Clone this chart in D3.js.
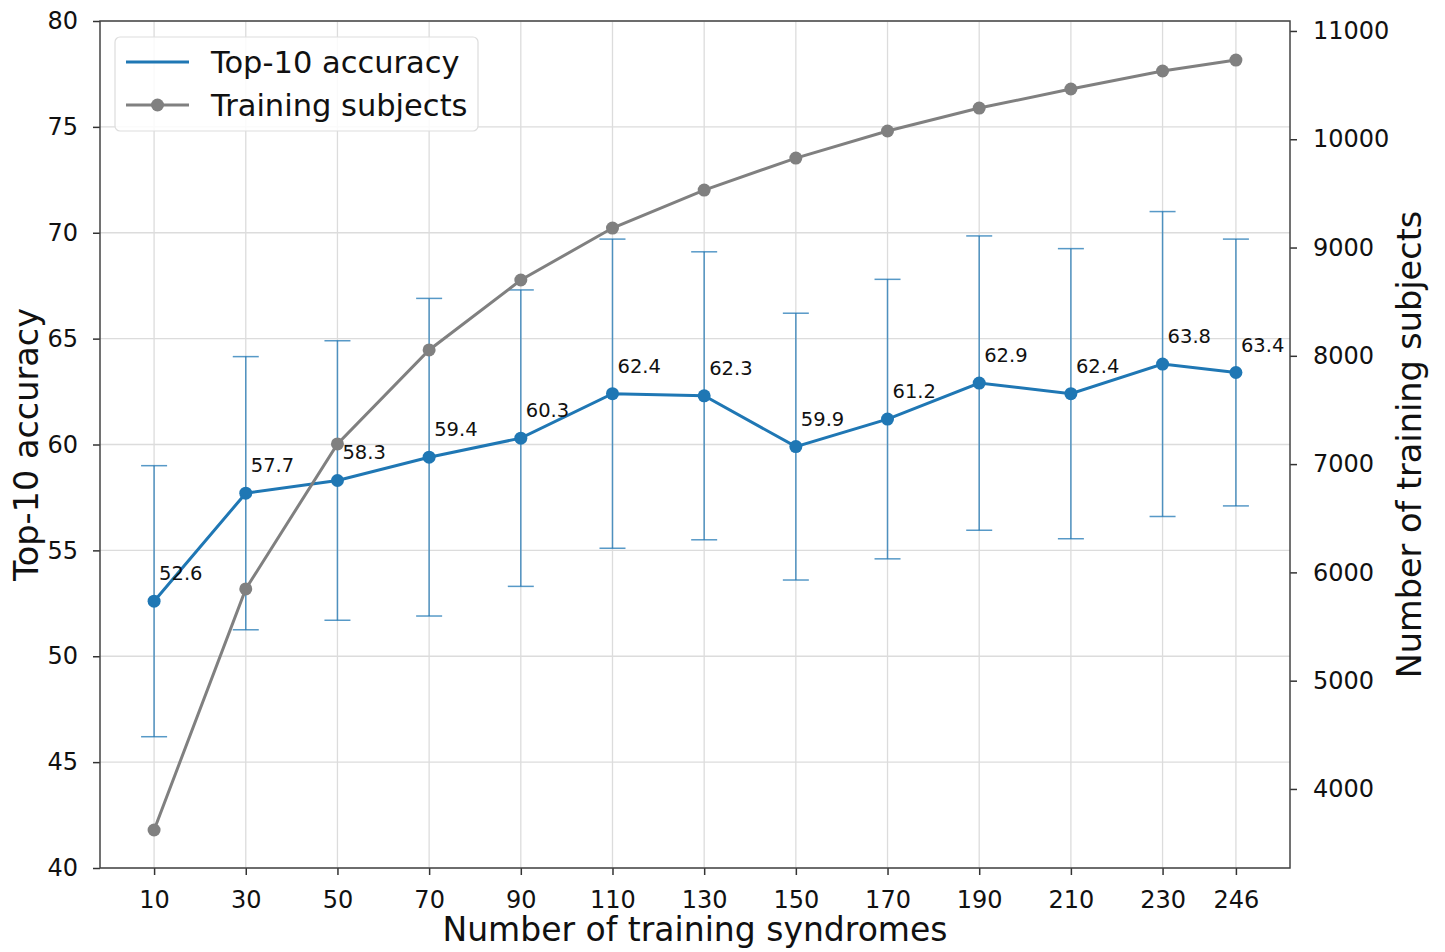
<!DOCTYPE html>
<html>
<head>
<meta charset="utf-8">
<script src="https://cdn.jsdelivr.net/npm/d3@7"></script>
<style>
  body { margin: 0; background: #fff; }
  svg { font-family: "DejaVu Sans", sans-serif; }
</style>
</head>
<body>
<div id="wrap"></div>
<script>
// data
const syndromes = [10, 30, 50, 70, 90, 110, 130, 150, 170, 190, 210, 230, 246];
const accuracy = [52.6, 57.7, 58.3, 59.4, 60.3, 62.4, 62.3, 59.9, 61.2, 62.9, 62.4, 63.8, 63.4];
const accuracyErr = [6.4, 6.45, 6.6, 7.5, 7.0, 7.3, 6.8, 6.3, 6.6, 6.95, 6.85, 7.2, 6.3];
const subjects = [3621, 5847, 7186, 8054, 8700, 9180, 9531, 9826, 10076, 10288, 10464, 10630, 10731];
const leftTicks = [40, 45, 50, 55, 60, 65, 70, 75, 80];
const rightTicks = [4000, 5000, 6000, 7000, 8000, 9000, 10000, 11000];

const width = 1445;
const height = 952;
const margin = { left: 100, right: 155, top: 21, bottom: 84 };
const innerW = width - margin.left - margin.right;
const innerH = height - margin.top - margin.bottom;

const blue = "#1f77b4";
const gray = "#808080";

const x = d3.scaleLinear().domain([-1.8, 257.8]).range([0, innerW]);
const y = d3.scaleLinear().domain([40, 80]).range([innerH, 0]);
const y2 = d3.scaleLinear().domain([3270, 11092]).range([innerH, 0]);

const svg = d3.select("#wrap").append("svg")
    .attr("width", width)
    .attr("height", height);

const g = svg.append("g")
    .attr("transform", `translate(${margin.left},${margin.top})`);

// grid
g.append("g").selectAll("line")
    .data(syndromes)
    .join("line")
    .attr("x1", d => x(d)).attr("x2", d => x(d))
    .attr("y1", 0).attr("y2", innerH)
    .attr("stroke", "#dcdcdc").attr("stroke-width", 1.3);

g.append("g").selectAll("line")
    .data(leftTicks)
    .join("line")
    .attr("x1", 0).attr("x2", innerW)
    .attr("y1", d => y(d)).attr("y2", d => y(d))
    .attr("stroke", "#dcdcdc").attr("stroke-width", 1.3);

// axes
function styleAxis(sel) {
    sel.select(".domain").remove();
    sel.selectAll(".tick line").attr("stroke", "#333").attr("stroke-width", 1.5);
    sel.selectAll(".tick text").attr("fill", "#111").style("font-size", "24px")
        .style("font-family", "DejaVu Sans");
}

g.append("g")
    .attr("transform", `translate(0,${innerH})`)
    .call(d3.axisBottom(x).tickValues(syndromes).tickSize(7).tickPadding(16).tickFormat(d3.format("d")))
    .call(styleAxis);

g.append("g")
    .call(d3.axisLeft(y).tickValues(leftTicks).tickSize(7).tickPadding(15).tickFormat(d3.format("d")))
    .call(styleAxis);

g.append("g")
    .attr("transform", `translate(${innerW},0)`)
    .call(d3.axisRight(y2).tickValues(rightTicks).tickSize(7).tickPadding(16).tickFormat(d3.format("d")))
    .call(styleAxis);

// frame
g.append("rect")
    .attr("width", innerW).attr("height", innerH)
    .attr("fill", "none").attr("stroke", "#444").attr("stroke-width", 1.5);

// error bars
const eb = g.append("g").attr("stroke", blue).attr("stroke-opacity", 0.75).attr("stroke-width", 1.5);
syndromes.forEach((s, i) => {
    const lo = y(accuracy[i] - accuracyErr[i]);
    const hi = y(accuracy[i] + accuracyErr[i]);
    eb.append("line").attr("x1", x(s)).attr("x2", x(s)).attr("y1", lo).attr("y2", hi);
    eb.append("line").attr("x1", x(s) - 13).attr("x2", x(s) + 13).attr("y1", lo).attr("y2", lo);
    eb.append("line").attr("x1", x(s) - 13).attr("x2", x(s) + 13).attr("y1", hi).attr("y2", hi);
});

// accuracy line
const accLine = d3.line().x((d, i) => x(syndromes[i])).y(d => y(d));
g.append("path")
    .attr("d", accLine(accuracy))
    .attr("fill", "none").attr("stroke", blue).attr("stroke-width", 3);
g.append("g").selectAll("circle")
    .data(accuracy)
    .join("circle")
    .attr("cx", (d, i) => x(syndromes[i]))
    .attr("cy", d => y(d))
    .attr("r", 6.5)
    .attr("fill", blue);

// subjects line
const subLine = d3.line().x((d, i) => x(syndromes[i])).y(d => y2(d));
g.append("path")
    .attr("d", subLine(subjects))
    .attr("fill", "none").attr("stroke", gray).attr("stroke-width", 3);
g.append("g").selectAll("circle")
    .data(subjects)
    .join("circle")
    .attr("cx", (d, i) => x(syndromes[i]))
    .attr("cy", d => y2(d))
    .attr("r", 6.5)
    .attr("fill", gray);

// value labels
g.append("g").selectAll("text")
    .data(accuracy)
    .join("text")
    .attr("x", (d, i) => x(syndromes[i]) + 5)
    .attr("y", d => y(d) - 21)
    .attr("font-size", 19.5)
    .attr("fill", "#111")
    .text(d => d3.format(".1f")(d));

// axis titles
svg.append("text")
    .attr("x", margin.left + innerW / 2)
    .attr("y", 941)
    .attr("text-anchor", "middle")
    .attr("font-size", 33)
    .attr("fill", "#111")
    .text("Number of training syndromes");

svg.append("text")
    .attr("transform", `translate(38,${margin.top + innerH / 2}) rotate(-90)`)
    .attr("text-anchor", "middle")
    .attr("font-size", 33.5)
    .attr("fill", "#111")
    .text("Top-10 accuracy");

svg.append("text")
    .attr("transform", `translate(1421,${margin.top + innerH / 2}) rotate(-90)`)
    .attr("text-anchor", "middle")
    .attr("font-size", 33.5)
    .attr("fill", "#111")
    .text("Number of training subjects");

// legend
const lg = g.append("g").attr("transform", "translate(15,16)");
lg.append("rect")
    .attr("width", 363).attr("height", 94).attr("rx", 5)
    .attr("fill", "#fff").attr("fill-opacity", 0.85)
    .attr("stroke", "#ddd").attr("stroke-width", 1.2);
const items = [
    { label: "Top-10 accuracy", color: blue, marker: false },
    { label: "Training subjects", color: gray, marker: true }
];
items.forEach((it, i) => {
    const cy = 25 + i * 43;
    lg.append("line")
        .attr("x1", 11).attr("x2", 74).attr("y1", cy).attr("y2", cy)
        .attr("stroke", it.color).attr("stroke-width", 3);
    if (it.marker) {
        lg.append("circle").attr("cx", 42.5).attr("cy", cy).attr("r", 6.5).attr("fill", it.color);
    }
    lg.append("text")
        .attr("x", 96).attr("y", cy + 11)
        .attr("font-size", 30.5)
        .attr("fill", "#111")
        .text(it.label);
});
</script>
</body>
</html>
